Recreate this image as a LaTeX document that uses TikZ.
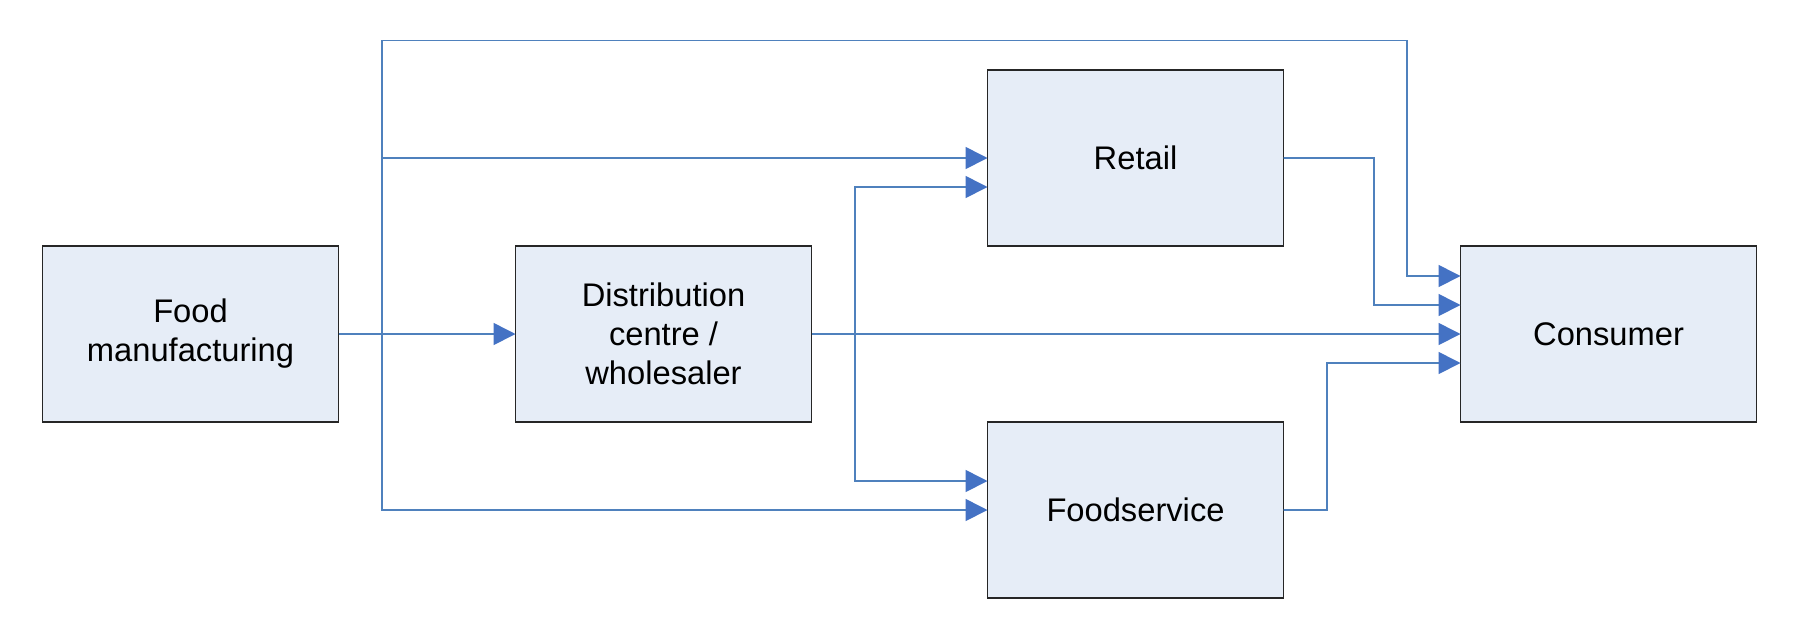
\documentclass[tikz,border=0pt]{standalone}
\usepackage{fontspec}
\setmainfont{Liberation Sans}
\usepackage{xcolor}
\usetikzlibrary{arrows.meta,positioning}
\definecolor{boxfill}{RGB}{230,237,247}
\definecolor{flowblue}{RGB}{79,129,189}
\definecolor{headblue}{RGB}{68,114,196}

\begin{document}
\begin{tikzpicture}[
  box/.style={rectangle, draw=black!85, line width=0.5pt, fill=boxfill, minimum width=2.96cm, minimum height=1.76cm, inner sep=2pt, outer sep=0pt, align=center, font=\fontsize{9.3}{11.1}\selectfont},
  flow/.style={draw=flowblue, line width=0.45pt, -{Triangle[length=0.22cm, width=0.22cm, color=headblue]}},
]
  \useasboundingbox (0,0) rectangle (18.17,-6.17);

  \node[box] (fm) at (1.905,-3.34) {Food\\manufacturing};
  \node[box, right=1.77cm of fm] (dc) {Distribution\\centre /\\wholesaler};
  \node[box, right=1.76cm of dc.north east, anchor=south west] (retail) {Retail};
  \node[box, right=1.76cm of dc.south east, anchor=north west] (fs) {Foodservice};
  \node[box, right=1.77cm of retail.south east, anchor=north west] (cons) {Consumer};

  % bends
  \coordinate (fmbus) at (3.82,-3.34);
  \coordinate (dcbus) at (8.55,-3.34);
  \coordinate (topturn) at (14.07,-0.406);
  \coordinate (rturn) at (13.74,-1.58);
  \coordinate (fsturn) at (13.27,-5.10);

  % from food manufacturing
  \draw[flow] (fm.east) -- (dc.west);
  \draw[flow] (fmbus) |- (topturn) |- ([yshift=0.58cm]cons.west);
  \draw[flow] (fmbus) |- (retail.west);
  \draw[flow] (fmbus) |- (fs.west);

  % from distribution centre
  \draw[flow] (dc.east) -- (cons.west);
  \draw[flow] (dcbus) |- ([yshift=-0.29cm]retail.west);
  \draw[flow] (dcbus) |- ([yshift=0.29cm]fs.west);

  % to consumer
  \draw[flow] (retail.east) -- (rturn) |- ([yshift=0.29cm]cons.west);
  \draw[flow] (fs.east) -- (fsturn) |- ([yshift=-0.29cm]cons.west);
\end{tikzpicture}
\end{document}
